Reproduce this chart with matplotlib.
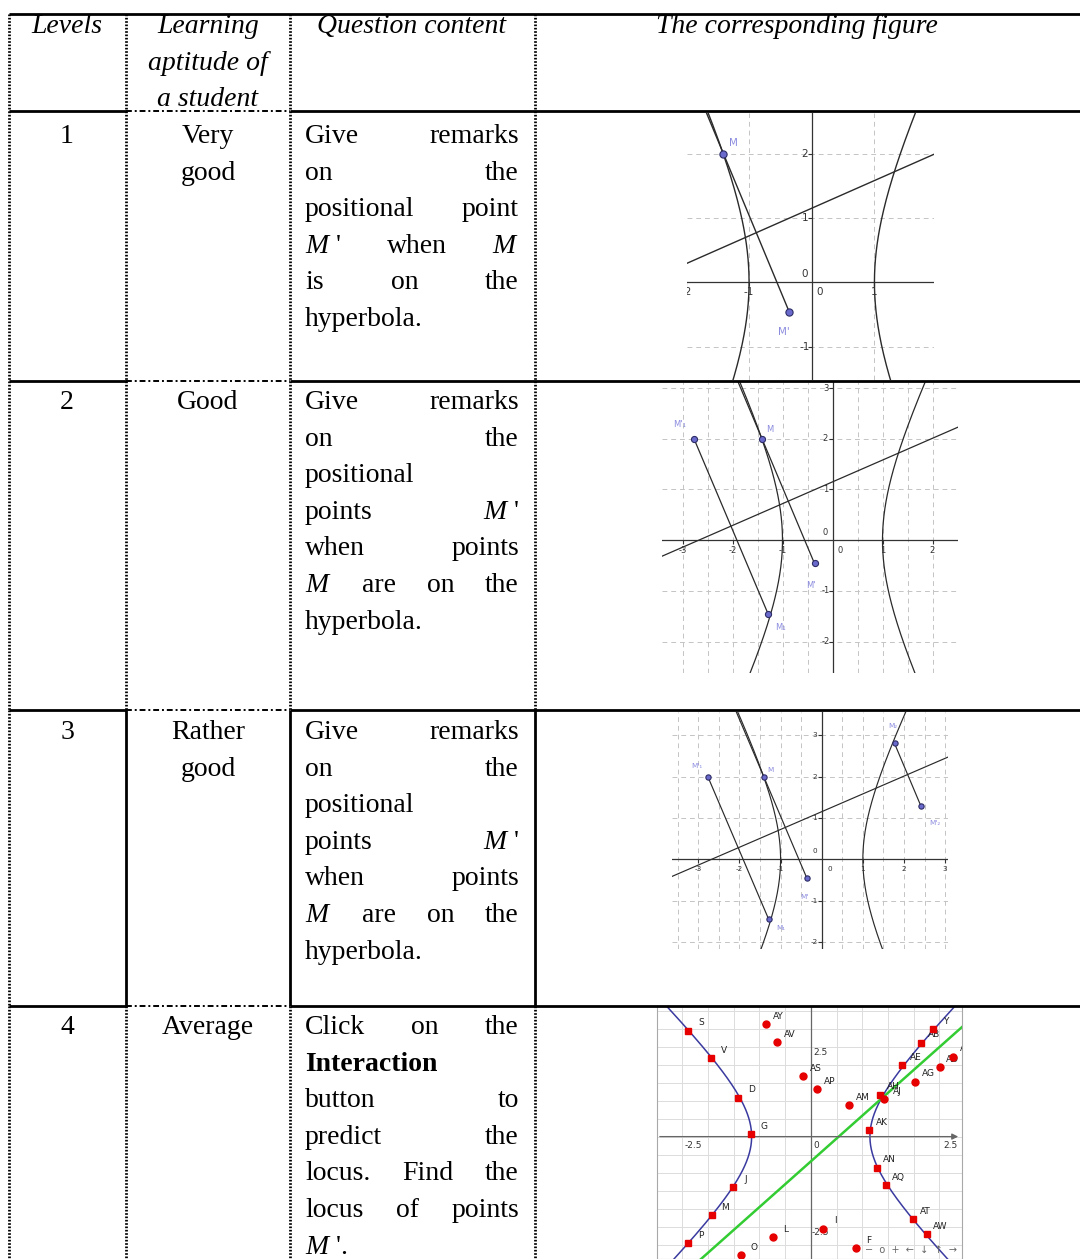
import matplotlib
matplotlib.use("Agg")
import matplotlib.pyplot as plt
import numpy as np

W, H = 1080, 1259
BODY = 20

plt.rcParams["font.family"] = ["Liberation Serif", "DejaVu Serif"]
plt.rcParams["mathtext.fontset"] = "custom"
plt.rcParams["mathtext.it"] = "Liberation Serif:italic"
plt.rcParams["mathtext.rm"] = "Liberation Serif"

# ---- table text ----
HEAD_LEVELS = ["Levels"]
HEAD_APTITUDE = ["Learning", "aptitude of", "a student"]
HEAD_QUESTION = ["Question content"]
HEAD_FIGURE = ["The corresponding figure"]

LEVELS = ["1", "2", "3", "4"]
APTITUDES = [["Very", "good"], ["Good"], ["Rather", "good"], ["Average"]]

Q_ONE = [["Give", "remarks"], ["on", "the"], ["positional", "point"],
         ["$M$ '", "when", "$M$"], ["is", "on", "the"], ["hyperbola."]]
Q_MANY = [["Give", "remarks"], ["on", "the"], ["positional"],
          ["points", "$M$ '"], ["when", "points"], ["$M$", "are", "on", "the"],
          ["hyperbola."]]
Q_LOCUS = [["Click", "on", "the"], [("Interaction", "bold")], ["button", "to"],
           ["predict", "the"], ["locus.", "Find", "the"], ["locus", "of", "points"],
           ["$M$ '."]]
QUESTIONS = [Q_ONE, Q_MANY, Q_MANY, Q_LOCUS]

# ---- reflection sketches (hyperbola x^2 - y^2/4 = 1, mirror y = 0.43x + 1.15) ----
HYP_A, HYP_B = 1.0, 2.0
MIRROR_SLOPE, MIRROR_ICPT = 0.43, 1.15
PT_M = (-1.41, 2.0)
PT_M_IMG = (-0.36, -0.46)
PT_M1_IMG = (-2.77, 2.0)
PT_M1 = (-1.29, -1.45)
PT_M2 = (1.77, 2.80)
PT_M2_IMG = (2.41, 1.29)

S1_XTICKS = [-2, -1, 1]
S1_XLABELS = ["-2", "-1", "1"]
S1_YTICKS = [-1, 1, 2]
S1_YLABELS = ["-1", "1", "2"]
S2_XTICKS = [-3, -2, -1, 1, 2]
S2_XLABELS = ["-3", "-2", "-1", "1", "2"]
S2_YTICKS = [-2, -1, 1, 2, 3]
S2_YLABELS = ["-2", "-1", "1", "2", "3"]
S3_XTICKS = [-3, -2, -1, 1, 2, 3]
S3_XLABELS = ["-3", "-2", "-1", "1", "2", "3"]
S3_YTICKS = [-2, -1, 1, 2, 3]
S3_YLABELS = ["-2", "-1", "1", "2", "3"]

# ---- locus sketch ----
LOC_A, LOC_B = 1.15, 1.63
LOC_SLOPE, LOC_ICPT = 1.27, -0.69
SQ_NAMES = ["S", "V", "D", "G", "J", "M", "P",
            "Y", "AB", "AE", "AH", "AK", "AN", "AQ", "AT", "AW"]
SQ_X = [-2.38, -1.94, -1.41, -1.17, -1.51, -1.93, -2.39,
        2.37, 2.14, 1.78, 1.35, 1.13, 1.28, 1.46, 1.98, 2.26]
SQ_Y = [2.94, 2.18, 1.08, 0.06, -1.41, -2.19, -2.96,
        2.98, 2.61, 1.98, 1.16, 0.17, -0.86, -1.35, -2.29, -2.71]
DOT_NAMES = ["AY", "AV", "AS", "AP", "AM", "AJ", "AG", "AD", "AA",
             "L", "O", "I", "F"]
DOT_X = [-0.88, -0.66, -0.16, 0.12, 0.75, 1.43, 2.03, 2.51, 2.77,
         -0.74, -1.36, 0.23, 0.88]
DOT_Y = [3.12, 2.62, 1.67, 1.31, 0.87, 1.04, 1.52, 1.93, 2.22,
         -2.79, -3.29, -2.56, -3.10]

GRID = "#c4c4c4"
AXIS = "#333333"
CURVE = "#2a2a2a"
PT_FACE = "#6a6acc"
PT_EDGE = "#2c2c66"
PT_TEXT = "#8c8ce0"

fig = plt.figure(figsize=(W / 100, H / 100), dpi=100)
fig.patch.set_facecolor("white")

# table layer in pixel coordinates, drawn above the sketches
tab = fig.add_axes([0, 0, 1, 1], zorder=5)
tab.set_xlim(0, W)
tab.set_ylim(H, 0)
tab.axis("off")
tab.patch.set_visible(False)

COL_X = [9, 126, 290, 535, W]
ROW_Y = [14, 111, 381, 710, 1006, H]

SOLID = dict(color="black", lw=2.0, ls="-", solid_capstyle="butt")
DASHDOT = dict(color="black", lw=1.4, ls=(0, (3, 1.5, 1, 1.5)))
DOTTED = dict(color="black", lw=2.0, ls=(0, (0.6, 0.6)))

# horizontal rules: the aptitude column is dashed, everything else solid
tab.plot([COL_X[0], W], [ROW_Y[0]] * 2, **SOLID)
for y in ROW_Y[1:5]:
    tab.plot([COL_X[0], COL_X[1]], [y, y], **SOLID)
    tab.plot([COL_X[1], COL_X[2]], [y, y], **DASHDOT)
    tab.plot([COL_X[2], W], [y, y], **SOLID)

# vertical rules: dotted, except row 3 which is ruled solid
for x in COL_X[:4]:
    for r in range(5):
        style = SOLID if (r == 3 and x != COL_X[0]) else DOTTED
        tab.plot([x, x], [ROW_Y[r], ROW_Y[r + 1]], **style)

renderer = fig.canvas.get_renderer()
LINE = 36.6


def stack(lines, x, y0, **kw):
    for i, s in enumerate(lines):
        tab.text(x, y0 + i * LINE, s, ha="center", va="baseline", fontsize=BODY, **kw)


def paragraph(lines, y0, x0=305, x1=519):
    space = 0.27 * BODY * 100 / 72
    for i, words in enumerate(lines):
        y = y0 + i * LINE
        arts = []
        for w in words:
            if isinstance(w, tuple):
                arts.append(tab.text(x0, y, w[0], fontweight=w[1], va="baseline", fontsize=BODY))
            else:
                arts.append(tab.text(x0, y, w, va="baseline", fontsize=BODY))
        widths = [a.get_window_extent(renderer).width for a in arts]
        last = i == len(lines) - 1
        gap = space if (last or len(arts) == 1) else (x1 - x0 - sum(widths)) / (len(arts) - 1)
        x = x0
        for a, wd in zip(arts, widths):
            a.set_x(x)
            x += wd + gap


# header row
stack(HEAD_LEVELS, 67, 33, style="italic")
stack(HEAD_APTITUDE, 208, 33, style="italic")
stack(HEAD_QUESTION, 412, 33, style="italic")
stack(HEAD_FIGURE, 797, 33, style="italic")

ROW_BASE = [143, 409, 739, 1034]
for lvl, apt, q, yb in zip(LEVELS, APTITUDES, QUESTIONS, ROW_BASE):
    stack([lvl], 67, yb)
    stack(apt, 208, yb)
    paragraph(q, yb)


def inset(box, xlim, ylim):
    l, t, r, b = box
    a = fig.add_axes([l / W, 1 - b / H, (r - l) / W, (b - t) / H])
    a.set_xlim(xlim)
    a.set_ylim(ylim)
    a.axis("off")
    return a


def label(a, xy, s, off, fs, color, clip=False, **kw):
    a.annotate(s, xy, xytext=off, textcoords="offset pixels", ha="center", va="center",
               fontsize=fs, color=color, family="DejaVu Sans", annotation_clip=False,
               clip_on=clip, **kw)


def reflection_sketch(box, xlim, ylim, xgrid, ygrid, xt, xl, yt, yl,
                      pairs, names, offsets, fs, ms, lw):
    a = inset(box, xlim, ylim)
    for gx in xgrid:
        a.axvline(gx, color=GRID, lw=0.7, ls=(0, (5, 4)))
    for gy in ygrid:
        a.axhline(gy, color=GRID, lw=0.7, ls=(0, (5, 4)))
    a.axhline(0, color=AXIS, lw=0.9)
    a.axvline(0, color=AXIS, lw=0.9)
    a.plot(xt, np.zeros(len(xt)), ls="", marker=3, ms=3, mew=0.8, color=AXIS)
    a.plot(np.zeros(len(yt)), yt, ls="", marker=0, ms=3, mew=0.8, color=AXIS)
    for t, s in zip(xt, xl):
        label(a, (t, 0), s, (0, -10), fs, AXIS, clip=True)
    for t, s in zip(yt, yl):
        label(a, (0, t), s, (-7, 0), fs, AXIS)
    label(a, (0, 0), "0", (8, -10), fs, AXIS)
    label(a, (0, 0), "0", (-7, 8), fs, AXIS)

    tt = np.linspace(-2.3, 2.3, 400)
    hx, hy = HYP_A * np.cosh(tt), HYP_B * np.sinh(tt)
    a.plot(hx, hy, color=CURVE, lw=lw)
    a.plot(-hx, hy, color=CURVE, lw=lw)
    mx = np.array(xlim)
    a.plot(mx, MIRROR_SLOPE * mx + MIRROR_ICPT, color=CURVE, lw=lw)

    # first pair: line from the image point through M up to the top edge
    (p, q) = pairs[0]
    ytop = ylim[1]
    xtop = q[0] + (ytop - q[1]) * (p[0] - q[0]) / (p[1] - q[1])
    a.plot([xtop, q[0]], [ytop, q[1]], color=CURVE, lw=lw)
    for p, q in pairs[1:]:
        a.plot([p[0], q[0]], [p[1], q[1]], color=CURVE, lw=lw)

    pts = [pt for pair in pairs for pt in pair]
    a.plot([pt[0] for pt in pts], [pt[1] for pt in pts], "o", ms=ms,
           mfc=PT_FACE, mec=PT_EDGE, mew=0.8, zorder=5)
    for pt, s, off in zip(pts, names, offsets):
        label(a, pt, s, off, fs, PT_TEXT)
    return a


reflection_sketch((687, 113, 934, 380), (-1.99, 1.95), (-1.52, 2.63),
                  [-1, 1], [-1, 1, 2], S1_XTICKS, S1_XLABELS, S1_YTICKS, S1_YLABELS,
                  [(PT_M, PT_M_IMG)], ["M", "M'"], [(10, 11), (-5, -20)],
                  7.5, 5.2, 1.0)

reflection_sketch((662, 382, 958, 673), (-3.41, 2.51), (-2.62, 3.12),
                  [-3, -2.5, -2, -1.5, -1, -0.5, 0.5, 1, 1.5, 2],
                  [-2, -1, 1, 2, 3], S2_XTICKS, S2_XLABELS, S2_YTICKS, S2_YLABELS,
                  [(PT_M, PT_M_IMG), (PT_M1_IMG, PT_M1)],
                  ["M", "M'", "M'\u2081", "M\u2081"],
                  [(8, 9), (-4, -22), (-14, 14), (12, -14)],
                  6.0, 4.4, 0.9)

reflection_sketch((672, 712, 948, 949), (-3.64, 3.07), (-2.17, 3.56),
                  [-3.5, -3, -2.5, -2, -1.5, -1, -0.5, 0.5, 1, 1.5, 2, 2.5, 3],
                  [-2, -1, 1, 2, 3], S3_XTICKS, S3_XLABELS, S3_YTICKS, S3_YLABELS,
                  [(PT_M, PT_M_IMG), (PT_M1_IMG, PT_M1), (PT_M2, PT_M2_IMG)],
                  ["M", "M'", "M'\u2081", "M\u2081", "M\u2082", "M'\u2082"],
                  [(7, 7), (-2, -19), (-11, 11), (12, -9), (-2, 17), (14, -17)],
                  5.2, 3.8, 0.85)

# ---- locus sketch ----
a4 = inset((657, 1007, 962, 1259), (-2.99, 2.94), (-3.40, 3.60))
a4.axis("on")
a4.set_xticks([])
a4.set_yticks([])
for side, sp in a4.spines.items():
    sp.set_color("#a8a8a8")
    sp.set_linewidth(0.8)
a4.spines["top"].set_visible(False)
for gx in np.arange(-3.0, 3.01, 0.5):
    a4.axvline(gx, color="#dcdcdc", lw=0.7)
for gy in np.arange(-3.5, 3.51, 0.5):
    a4.axhline(gy, color="#dcdcdc", lw=0.7)
a4.annotate("", xy=(2.92, 0), xytext=(-2.99, 0),
            arrowprops=dict(arrowstyle="-|>", color="#666666", lw=0.9, mutation_scale=9))
a4.axvline(0, color="#666666", lw=0.9)
for t, s in zip([-2.5, 2.5], ["-2.5", "2.5"]):
    label(a4, (t, 0), s, (11, -9), 6.5, AXIS)
label(a4, (0, 0), "0", (5, -9), 6.5, AXIS)
for t, s in zip([2.5, -2.5], ["2.5", "-2.5"]):
    label(a4, (0, t), s, (10, -6), 6.5, AXIS)

tt = np.linspace(-2.2, 2.2, 400)
hx, hy = LOC_A * np.cosh(tt), LOC_B * np.sinh(tt)
a4.plot(hx, hy, color="#3a3aa0", lw=1.1)
a4.plot(-hx, hy, color="#3a3aa0", lw=1.1)
gx = np.array([-3.0, 3.0])
a4.plot(gx, LOC_SLOPE * gx + LOC_ICPT, color="#33cc33", lw=1.8)
a4.plot(SQ_X, SQ_Y, "s", ms=4.2, color="#e60000", zorder=5)
a4.plot(DOT_X, DOT_Y, "o", ms=5.0, color="#e60000", zorder=5)
for x, y, s in zip(SQ_X + DOT_X, SQ_Y + DOT_Y, SQ_NAMES + DOT_NAMES):
    label(a4, (x, y), s, (13, 8), 6.5, "#222222", clip=True)

tab.text(911, 1250, "\u2212  o  +  \u2190  \u2193  \u2191  \u2192", ha="center", va="center",
         fontsize=7, color="#666666", family="DejaVu Sans")

fig.savefig("out.png", dpi=100, facecolor="white")
